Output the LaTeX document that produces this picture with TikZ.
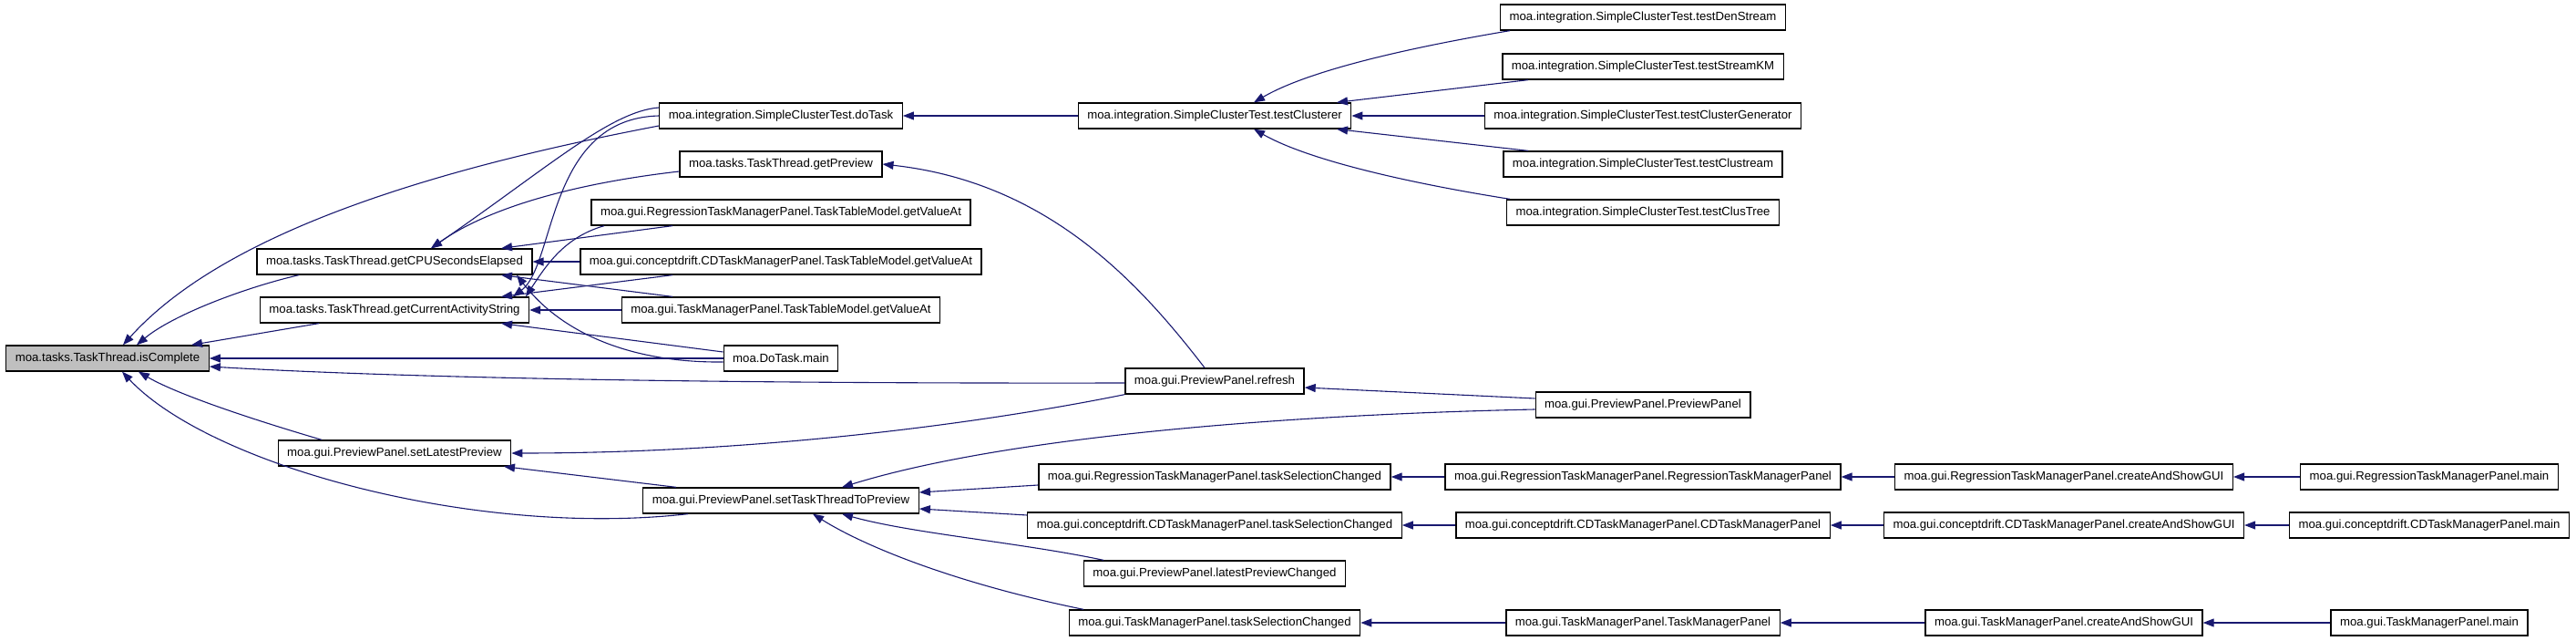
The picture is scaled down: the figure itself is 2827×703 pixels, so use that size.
\documentclass[tikz,border=0pt]{standalone}
\usepackage{fontspec}
\setmainfont{Liberation Sans}
\usepackage{tikz}
\usetikzlibrary{arrows.meta}
\definecolor{edgeblue}{HTML}{191970}

\begin{document}
\begin{tikzpicture}[x=1pt, y=-1pt,
  fn/.style={draw, line width=1.3pt, fill=white, minimum height=28pt, inner xsep=10pt,
    inner ysep=0pt, font=\fontsize{13.2}{16}\selectfont},
  hl/.style={fn, fill=black!25},
  e/.style={-{Triangle[length=12pt, width=9pt]}, draw=edgeblue, line width=1.1pt}]

  \useasboundingbox (0,0) rectangle (2827,703);

  % column 1 and 2
  \node[hl] (isC)   at (118,393) {moa.tasks.TaskThread.isComplete};
  \node[fn] (cpu)   at (433,287) {moa.tasks.TaskThread.getCPUSecondsElapsed};
  \node[fn] (act)   at (433,340) {moa.tasks.TaskThread.getCurrentActivityString};
  \node[fn] (setlp) at (433,497) {moa.gui.PreviewPanel.setLatestPreview};

  % column 3
  \node[fn] (dotask)  at (857,127) {moa.integration.SimpleClusterTest.doTask};
  \node[fn] (getprev) at (857,180) {moa.tasks.TaskThread.getPreview};
  \node[fn] (rgva)    at (857,233) {moa.gui.RegressionTaskManagerPanel.TaskTableModel.getValueAt};
  \node[fn] (cdva)    at (857,287) {moa.gui.conceptdrift.CDTaskManagerPanel.TaskTableModel.getValueAt};
  \node[fn] (tmva)    at (857,340) {moa.gui.TaskManagerPanel.TaskTableModel.getValueAt};
  \node[fn] (dtmain)  at (857,393) {moa.DoTask.main};
  \node[fn] (settt)   at (857,549) {moa.gui.PreviewPanel.setTaskThreadToPreview};

  % column 4
  \node[fn] (clusterer) at (1333,127) {moa.integration.SimpleClusterTest.testClusterer};
  \node[fn] (refresh)   at (1333,418) {moa.gui.PreviewPanel.refresh};
  \node[fn] (rtsc)      at (1333,523) {moa.gui.RegressionTaskManagerPanel.taskSelectionChanged};
  \node[fn] (cdtsc)     at (1333,576) {moa.gui.conceptdrift.CDTaskManagerPanel.taskSelectionChanged};
  \node[fn] (lpc)       at (1333,629) {moa.gui.PreviewPanel.latestPreviewChanged};
  \node[fn] (tmtsc)     at (1333,683) {moa.gui.TaskManagerPanel.taskSelectionChanged};

  % column 5
  \node[fn] (den)     at (1803,19)  {moa.integration.SimpleClusterTest.testDenStream};
  \node[fn] (skm)     at (1803,73)  {moa.integration.SimpleClusterTest.testStreamKM};
  \node[fn] (gen)     at (1803,127) {moa.integration.SimpleClusterTest.testClusterGenerator};
  \node[fn] (clus)    at (1803,180) {moa.integration.SimpleClusterTest.testClustream};
  \node[fn] (tree)    at (1803,233) {moa.integration.SimpleClusterTest.testClusTree};
  \node[fn] (ppanel)  at (1803,444) {moa.gui.PreviewPanel.PreviewPanel};
  \node[fn] (rpanel)  at (1803,523) {moa.gui.RegressionTaskManagerPanel.RegressionTaskManagerPanel};
  \node[fn] (cdpanel) at (1803,576) {moa.gui.conceptdrift.CDTaskManagerPanel.CDTaskManagerPanel};
  \node[fn] (tmpanel) at (1803,683) {moa.gui.TaskManagerPanel.TaskManagerPanel};

  % columns 6 and 7
  \node[fn] (rgui)   at (2265,523) {moa.gui.RegressionTaskManagerPanel.createAndShowGUI};
  \node[fn] (cdgui)  at (2265,576) {moa.gui.conceptdrift.CDTaskManagerPanel.createAndShowGUI};
  \node[fn] (tmgui)  at (2265,683) {moa.gui.TaskManagerPanel.createAndShowGUI};
  \node[fn] (rmain)  at (2666,523) {moa.gui.RegressionTaskManagerPanel.main};
  \node[fn] (cdmain) at (2666,576) {moa.gui.conceptdrift.CDTaskManagerPanel.main};
  \node[fn] (tmmain) at (2666,683) {moa.gui.TaskManagerPanel.main};

  % callers of isComplete
  \draw[e] ([yshift=-11pt]dotask.west) .. controls (450,190) and (240,262) .. ([xshift=17pt]isC.north);
  \draw[e] ([xshift=-105pt]cpu.south) .. controls (270,315) and (190,345) .. ([xshift=32pt]isC.north);
  \draw[e] ([xshift=-83pt]act.south) -- ([xshift=92pt]isC.north);
  \draw[e] (dtmain.west) -- (isC.east);
  \draw[e] ([yshift=-2pt]refresh.west) .. controls (700,421) and (400,412) .. ([yshift=-9pt]isC.east);
  \draw[e] ([xshift=-80pt]setlp.north) .. controls (260,455) and (190,430) .. ([xshift=34pt]isC.south);
  \draw[e] ([xshift=-102pt]settt.south) .. controls (520,590) and (230,510) .. ([xshift=16pt]isC.south);

  % callers of getCPUSecondsElapsed
  \draw[e] ([yshift=9pt]dotask.west) .. controls (670,122) and (600,185) .. ([xshift=40pt]cpu.north);
  \draw[e] ([yshift=-8pt]getprev.west) .. controls (640,200) and (540,225) .. ([xshift=40pt]cpu.north);
  \draw[e] ([xshift=-119pt]rgva.south) -- ([xshift=117pt]cpu.north);
  \draw[e] (cdva.west) -- (cpu.east);
  \draw[e] ([xshift=-119pt]tmva.north) -- ([xshift=117pt]cpu.south);
  \draw[e] ([yshift=-4pt]dtmain.west) .. controls (700,398) and (620,370) .. ([xshift=134pt]cpu.south);

  % callers of getCurrentActivityString
  \draw[e] (dotask.west) .. controls (600,130) and (610,290) .. ([xshift=130pt]act.north);
  \draw[e] ([xshift=-194pt]rgva.south) .. controls (620,260) and (600,290) .. ([xshift=144pt]act.north);
  \draw[e] ([xshift=-119pt]cdva.south) -- ([xshift=117pt]act.north);
  \draw[e] (tmva.west) -- (act.east);
  \draw[e] ([yshift=7pt]dtmain.west) -- ([xshift=117pt]act.south);

  % preview panel
  \draw[e] (refresh.south west) .. controls (1100,460) and (850,497) .. (setlp.east);
  \draw[e] ([xshift=-115pt]settt.north) -- ([xshift=120pt]setlp.south);
  \draw[e] ([yshift=-5pt]ppanel.west) .. controls (1400,455) and (1100,480) .. ([xshift=67pt]settt.north);
  \draw[e] ([yshift=-9pt]rtsc.west) -- ([yshift=9pt]settt.east);
  \draw[e] ([yshift=11pt]cdtsc.west) -- ([yshift=-9pt]settt.east);
  \draw[e] ([xshift=-122pt]lpc.north) .. controls (1120,595) and (1000,585) .. ([xshift=67pt]settt.south);
  \draw[e] ([xshift=-144pt]tmtsc.north) .. controls (1050,640) and (950,600) .. ([xshift=35pt]settt.south);
  \draw[e] ([yshift=7pt]ppanel.west) -- ([yshift=-7pt]refresh.east);
  \draw[e] ([xshift=-11pt]refresh.north) .. controls (1250,310) and (1150,200) .. (getprev.east);

  % cluster tests
  \draw[e] (clusterer.west) -- (dotask.east);
  \draw[e] ([xshift=-146pt]den.south) .. controls (1560,50) and (1440,75) .. ([xshift=43pt]clusterer.north);
  \draw[e] ([xshift=-126pt]skm.south) -- ([xshift=134pt]clusterer.north);
  \draw[e] (gen.west) -- (clusterer.east);
  \draw[e] ([xshift=-126pt]clus.north) -- ([xshift=134pt]clusterer.south);
  \draw[e] ([xshift=-146pt]tree.north) .. controls (1560,203) and (1440,178) .. ([xshift=43pt]clusterer.south);

  % task manager panels
  \draw[e] (rpanel) -- (rtsc);
  \draw[e] (rgui) -- (rpanel);
  \draw[e] (rmain) -- (rgui);
  \draw[e] (cdpanel) -- (cdtsc);
  \draw[e] (cdgui) -- (cdpanel);
  \draw[e] (cdmain) -- (cdgui);
  \draw[e] (tmpanel) -- (tmtsc);
  \draw[e] (tmgui) -- (tmpanel);
  \draw[e] (tmmain) -- (tmgui);
\end{tikzpicture}
\end{document}
